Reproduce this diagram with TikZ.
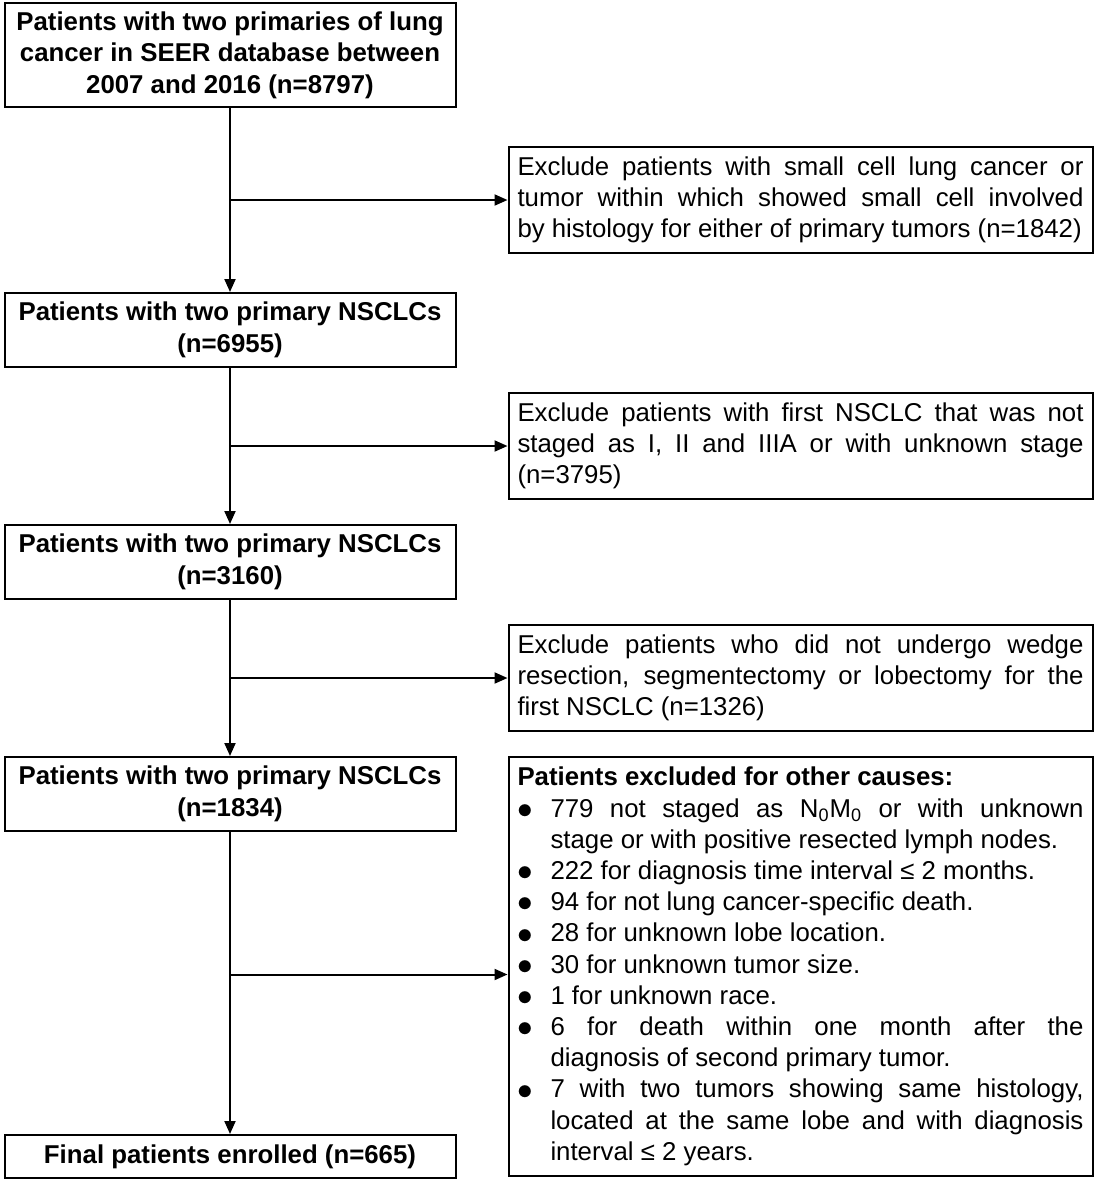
\documentclass[tikz,border=0pt]{standalone}
\usepackage{fontspec}
\usepackage{graphicx}
\setmainfont{Liberation Sans}
\usetikzlibrary{positioning,calc,arrows.meta}

\hyphenpenalty=10000
\exhyphenpenalty=10000

\newcommand{\bitem}{\par\hangindent=16.5pt\hangafter=1\noindent\makebox[16.5pt][l]{\hspace{0.2pt}\raisebox{-0.6pt}{\scalebox{1.3}{$\bullet$}}}}

\tikzset{
  patbox/.style={draw, line width=1pt, font=\bfseries\fontsize{12.9}{15.7}\selectfont,
    text width=216pt, minimum width=225.5pt, minimum height=37pt, inner xsep=4.75pt, inner ysep=4pt, align=flush center},
  exclbox/.style={draw, line width=1pt, font=\fontsize{12.9}{15.6}\selectfont,
    text width=283pt, minimum height=53pt, inner xsep=4.5pt, inner ysep=4.8pt, align=justify},
  arr/.style={line width=1pt, -{Triangle[length=6.5pt,width=5.5pt]}}
}

\begin{document}
\begin{tikzpicture}

    \useasboundingbox (0,0) rectangle (549pt,-590pt);

    % Define nodes
    \node[patbox, anchor=north west, minimum height=52pt] (all) at (1.75pt,-1pt) {Patients with two primaries of lung cancer in SEER database between 2007 and 2016 (n=8797)};
    \node[patbox, below=92pt of all]          (nsclc1) {Patients with two primary NSCLCs (n=6955)};
    \node[patbox, below=78pt of nsclc1]       (nsclc2) {Patients with two primary NSCLCs (n=3160)};
    \node[patbox, below=78pt of nsclc2]       (nsclc3) {Patients with two primary NSCLCs (n=1834)};
    \node[patbox, below=151pt of nsclc3, minimum height=21.5pt] (final) {Final patients enrolled (n=665)};

    % Branch points
    \coordinate (b1) at ($(all.south east)!0.5!(nsclc1.north east)$);
    \coordinate (b2) at ($(nsclc1.south east)!0.5!(nsclc2.north east)$);
    \coordinate (b3) at ($(nsclc2.south east)!0.5!(nsclc3.north east)$);

    % Exclusions
    \node[exclbox, right=25.5pt of b1] (ex1) {Exclude patients with small cell lung cancer or\linebreak tumor within which showed small cell involved\linebreak by histology for either of primary tumors (n=1842)};
    \node[exclbox, right=25.5pt of b2] (ex2) {Exclude patients with first NSCLC that was not\linebreak staged as I, II and IIIA or with unknown stage\linebreak (n=3795)};
    \node[exclbox, right=25.5pt of b3] (ex3) {Exclude patients who did not undergo wedge\linebreak resection, segmentectomy or lobectomy for the\linebreak first NSCLC (n=1326)};
    \node[exclbox, below right=0pt and 25.5pt of nsclc3.north east, minimum height=209.5pt] (ex4) {\noindent\textbf{Patients excluded for other causes:}
      \bitem 779 not staged as N\textsubscript{0}M\textsubscript{0} or with unknown\linebreak stage or with positive resected lymph nodes.
      \bitem 222 for diagnosis time interval ≤ 2 months.
      \bitem 94 for not lung cancer-specific death.
      \bitem 28 for unknown lobe location.
      \bitem 30 for unknown tumor size.
      \bitem 1 for unknown race.
      \bitem 6 for death within one month after the\linebreak diagnosis of second primary tumor.
      \bitem 7 with two tumors showing same histology,\linebreak located at the same lobe and with diagnosis\linebreak interval ≤ 2 years.\par};

    % Connect the nodes
    \draw[arr] (all) -- (nsclc1);
    \draw[arr] (nsclc1) -- (nsclc2);
    \draw[arr] (nsclc2) -- (nsclc3);
    \draw[arr] (nsclc3) -- (final);

    \draw[arr] (ex1.west -| all.south) -- (ex1.west);
    \draw[arr] (ex2.west -| all.south) -- (ex2.west);
    \draw[arr] (ex3.west -| all.south) -- (ex3.west);
    \draw[arr] ([yshift=-4pt]ex4.west -| all.south) -- ([yshift=-4pt]ex4.west);

\end{tikzpicture}
\end{document}
